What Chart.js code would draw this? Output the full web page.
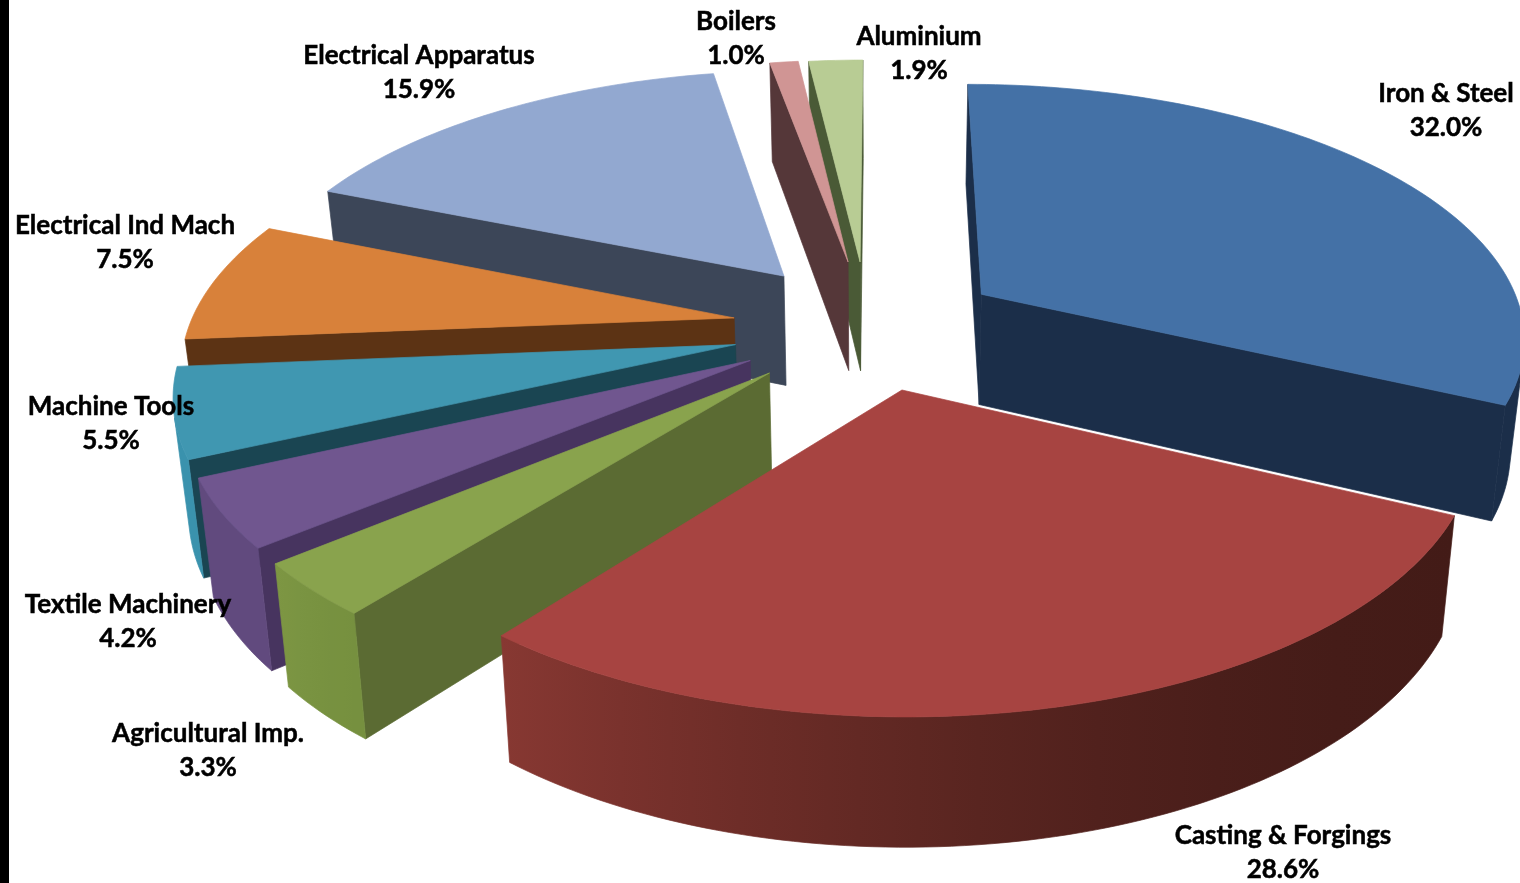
<!DOCTYPE html>
<html>
<head>
<meta charset="utf-8">
<title>Pie</title>
<script src="https://cdn.jsdelivr.net/npm/chart.js@4"></script>
<style>
	html, body { margin: 0; padding: 0; background: #fff; overflow: hidden; }
	#wrap { position: relative; width: 1520px; height: 883px; }
	#bar { position: absolute; left: 0; top: 0; width: 9px; height: 883px; background: #000; }
</style>
</head>
<body>
<div id="wrap">
	<canvas id="pie" width="1520" height="883"></canvas>
	<div id="bar"></div>
</div>
<script>
const categories = ['Iron & Steel', 'Casting & Forgings', 'Agricultural Imp.', 'Textile Machinery', 'Machine Tools', 'Electrical Ind Mach', 'Electrical Apparatus', 'Boilers', 'Aluminium'];
const shares = [32.0, 28.6, 3.3, 4.2, 5.5, 7.5, 15.9, 1.0, 1.9];

// Colours
const topColors = ['#4471a6', '#a74441', '#89a34d', '#70568f', '#4097b1', '#d8813a', '#92a8d0', '#d09594', '#b8cc94'];
const cutColors = ['#1b2e49', '#431b17', '#5b6b33', '#47345f', '#1a4552', '#5c3314', '#3c4658', '#553739', '#4a5a36'];
const rimLeft = ['#1b2e49', '#873832', '#7d9643', '#614a7e', '#3a92ad', '#5c3314', '#3c4658', '#553739', '#4a5a36'];
const rimRight = ['#1b2e49', '#431b17', '#76903f', '#614a7e', '#3a92ad', '#5c3314', '#3c4658', '#553739', '#4a5a36'];

// Layout: how far each slice is pulled out (in pie radii), paint order, label centres
const explodeU = [0.188, 0.037, -0.199, -0.235, -0.264, -0.271, -0.184, -0.063, -0.04];
const explodeV = [-0.144, 0.228, 0.165, 0.118, 0.057, -0.048, -0.22, -0.28, -0.28];
const paintOrder = [8, 7, 6, 5, 4, 3, 2, 0, 1];
const labelX = [1446, 1283, 208, 128, 111, 125, 419, 736, 919];
const labelY = [94, 836, 734, 605, 407, 226, 56, 22, 37];

// Camera
const centerX = 881, centerY = 330, scaleU = 546, scaleV = 253.7, perspective = 0.1586;
const depth = 112, depthPower = 0.7, depthNarrow = 0.022;

function project(u, v, h) {
	const k = 1 / (1 - perspective * v);
	return {
		x: centerX + scaleU * u * k * (1 - depthNarrow * h),
		y: centerY + scaleV * v * k + depth * Math.pow(k, depthPower) * h
	};
}

function mixColor(a, b, t) {
	const pa = [1, 3, 5].map(i => parseInt(a.substr(i, 2), 16));
	const pb = [1, 3, 5].map(i => parseInt(b.substr(i, 2), 16));
	return 'rgb(' + pa.map((c, i) => Math.round(c + (pb[i] - c) * t)).join(',') + ')';
}

function fillPoly(ctx, pts, color) {
	ctx.beginPath();
	pts.forEach((p, i) => i ? ctx.lineTo(p.x, p.y) : ctx.moveTo(p.x, p.y));
	ctx.closePath();
	ctx.fillStyle = color;
	ctx.strokeStyle = color;
	ctx.lineWidth = 0.7;
	ctx.fill();
	ctx.stroke();
}

// true when the wall under the edge a-b faces the viewer
function wallVisible(a, b) {
	const q = [project(a.u, a.v, 0), project(b.u, b.v, 0), project(b.u, b.v, 1), project(a.u, a.v, 1)];
	let area = 0;
	q.forEach((p, i) => {
		const n = q[(i + 1) % 4];
		area += p.x * n.y - n.x * p.y;
	});
	return area < 0;
}

function drawCut(ctx, a, b, color) {
	if (!wallVisible(a, b)) return;
	fillPoly(ctx, [project(a.u, a.v, 0), project(b.u, b.v, 0), project(b.u, b.v, 1), project(a.u, a.v, 1)], color);
}

// Outer wall as one polygon, shaded left to right
function drawRim(ctx, rim, i) {
	const shown = [];
	for (let s = 0; s < rim.length - 1; s++) {
		if (wallVisible(rim[s], rim[s + 1])) {
			if (!shown.length) shown.push(rim[s]);
			shown.push(rim[s + 1]);
		}
	}
	if (!shown.length) return;
	const upper = shown.map(p => project(p.u, p.v, 0));
	const lower = shown.map(p => project(p.u, p.v, 1)).reverse();
	const poly = upper.concat(lower);
	const xs = poly.map(p => p.x);
	const grad = ctx.createLinearGradient(Math.min(...xs), 0, Math.max(...xs), 0);
	for (let t = 0; t <= 8; t++) {
		grad.addColorStop(t / 8, mixColor(rimRight[i], rimLeft[i], Math.pow(1 - t / 8, 1.6)));
	}
	fillPoly(ctx, poly, grad);
}

const pie3d = {
	id: 'pie3d',
	beforeDatasetDraw(chart) {
		const ctx = chart.ctx;
		const arcs = chart.getDatasetMeta(0).data;
		ctx.save();
		paintOrder.forEach(i => {
			const arc = arcs[i];
			const tip = { u: explodeU[i], v: explodeV[i] };
			const rim = [];
			const steps = Math.max(4, Math.ceil((arc.endAngle - arc.startAngle) / 0.02));
			for (let s = 0; s <= steps; s++) {
				const a = arc.startAngle + (arc.endAngle - arc.startAngle) * s / steps;
				rim.push({ u: tip.u + Math.cos(a), v: tip.v + Math.sin(a) });
			}
			drawCut(ctx, tip, rim[0], cutColors[i]);
			drawCut(ctx, rim[steps], tip, cutColors[i]);
			drawRim(ctx, rim, i);
			const top = [tip].concat(rim).map(p => project(p.u, p.v, 0));
			fillPoly(ctx, top, topColors[i]);
		});
		ctx.restore();
		return false; // the slices are painted above
	},
	afterDatasetsDraw(chart) {
		const ctx = chart.ctx;
		ctx.save();
		ctx.font = 'bold 26px Lato';
		ctx.fillStyle = '#000';
		ctx.strokeStyle = '#000';
		ctx.lineWidth = 0.5;
		ctx.textAlign = 'center';
		ctx.textBaseline = 'middle';
		categories.forEach((name, i) => {
			const pct = shares[i].toFixed(1) + '%';
			ctx.fillText(name, labelX[i], labelY[i]);
			ctx.strokeText(name, labelX[i], labelY[i]);
			ctx.fillText(pct, labelX[i], labelY[i] + 34);
			ctx.strokeText(pct, labelX[i], labelY[i] + 34);
		});
		ctx.restore();
	}
};

new Chart(document.getElementById('pie'), {
	type: 'pie',
	data: {
		labels: categories,
		datasets: [{ data: shares, backgroundColor: topColors, borderWidth: 0 }]
	},
	options: {
		responsive: false,
		animation: false,
		events: [],
		plugins: { legend: { display: false }, tooltip: { enabled: false } }
	},
	plugins: [pie3d]
});
</script>
</body>
</html>
